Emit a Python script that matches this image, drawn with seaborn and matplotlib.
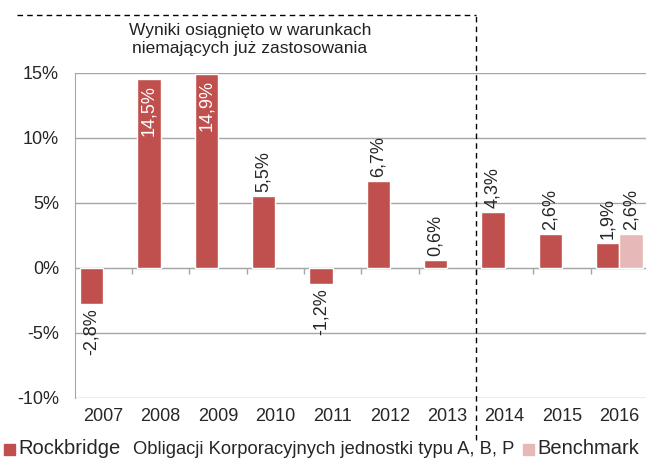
import numpy as np
import pandas as pd
import matplotlib.pyplot as plt
import seaborn as sns
from matplotlib.patches import Rectangle

sns.set_style('white')
plt.rcParams['font.family'] = ['Liberation Sans', 'DejaVu Sans']

years = ['2007', '2008', '2009', '2010', '2011', '2012', '2013', '2014', '2015', '2016']
rockbridge = [-2.8, 14.5, 14.9, 5.5, -1.2, 6.7, 0.6, 4.3, 2.6, 1.9]
benchmark = [np.nan] * 9 + [2.6]
series = ['Rockbridge', 'Benchmark']
colors = ['#C0504D', '#E6B9B8']

df = pd.DataFrame({
    'year': years * 2,
    'series': ['Rockbridge'] * len(years) + ['Benchmark'] * len(years),
    'value': rockbridge + benchmark,
})

W, H = 646, 459
fig = plt.figure(figsize=(W / 100, H / 100), dpi=100)
ax = fig.add_axes([0.1156, 0.1329, 0.8875, 0.7081])

sns.barplot(data=df, x='year', y='value', hue='series', hue_order=series,
            palette=colors, width=0.815, errorbar=None, legend=False,
            saturation=1, ax=ax)

ax.set_xlim(-0.5, len(years) - 0.5)
ax.set_ylim(-10, 15)
ax.set_yticks(np.arange(-10, 16, 5))
ax.set_yticklabels([f'{t}%' for t in range(-10, 16, 5)])
ax.set_xlabel('')
ax.set_ylabel('')

grey = '#A6A6A6'
ax.yaxis.grid(True, color=grey, lw=1)
ax.set_axisbelow(True)
for s in ['top', 'right', 'bottom']:
    ax.spines[s].set_visible(False)
ax.spines['left'].set_color(grey)
ax.tick_params(axis='y', length=4.3, color=grey, width=1, pad=7, labelsize=13)
ax.tick_params(axis='x', length=0, pad=7, labelsize=13)

# category separators on the zero line
sec = ax.secondary_xaxis(0.4)
sec.set_xticks(np.arange(0.5, len(years) - 1, 1))
sec.set_xticklabels([])
sec.tick_params(length=4, color=grey, width=1)
sec.spines['bottom'].set_color(grey)

# data labels
for cont in ax.containers:
    for bar in cont:
        v = bar.get_height()
        if not np.isfinite(v):
            continue
        x = bar.get_x() + bar.get_width() / 2
        txt = f'{v:.1f}'.replace('.', ',') + '%'
        if v > 12:
            ax.annotate(txt, (x, v), xytext=(0, -4), textcoords='offset points',
                        rotation=90, ha='center', va='top', color='white', fontsize=13)
        elif v >= 0:
            ax.annotate(txt, (x, v), xytext=(0, 3), textcoords='offset points',
                        rotation=90, ha='center', va='bottom', fontsize=13)
        else:
            ax.annotate(txt, (x, v), xytext=(0, -3), textcoords='offset points',
                        rotation=90, ha='center', va='top', fontsize=13)

# dashed box marking old period
ax.axvline(6.5, ymin=-0.129, ymax=1.178, color='black', lw=1,
           ls=(0, (4, 3)), clip_on=False)
ax.axhline(19.46, xmin=-0.1006, xmax=0.7, color='black', lw=1,
           ls=(0, (4, 3)), clip_on=False)
fig.text(250 / W, 1 - 40 / H, 'Wyniki osiągnięto w warunkach\nniemających już zastosowania',
         ha='center', va='center', fontsize=12.5, color='#222222', linespacing=1.25)

# legend
ly = 1 - 449 / H
fig.patches.append(Rectangle((4 / W, 1 - 455 / H), 11 / W, 11 / H, color=colors[0],
                             transform=fig.transFigure))
fig.text(18 / W, ly, 'Rockbridge', fontsize=14.5, va='center', ha='left')
fig.text(133 / W, ly, 'Obligacji Korporacyjnych jednostki typu A, B, P', fontsize=13.2,
         va='center', ha='left')
fig.patches.append(Rectangle((523 / W, 1 - 455 / H), 11 / W, 11 / H, color=colors[1],
                             transform=fig.transFigure))
fig.text(537 / W, ly, 'Benchmark', fontsize=14.5, va='center', ha='left')

fig.savefig('out.png', dpi=100)
